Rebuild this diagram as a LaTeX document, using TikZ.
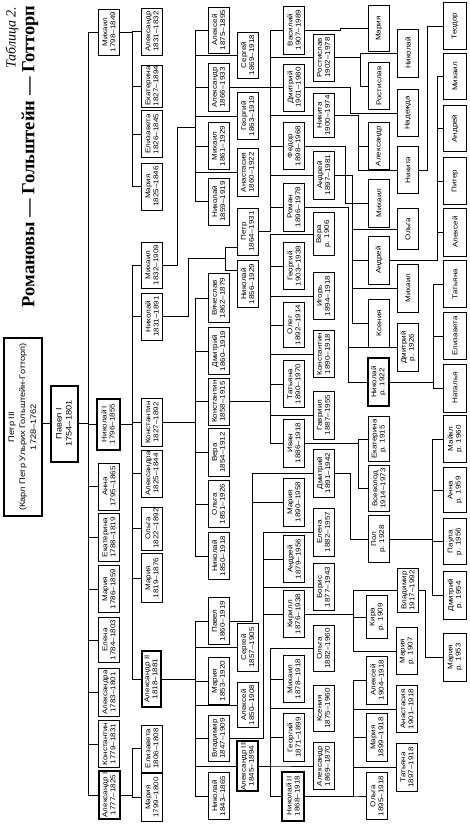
\documentclass[tikz,border=0pt]{standalone}
\usepackage{fontspec}
\setmainfont{Liberation Serif}
\newfontfamily\boxfont[FakeStretch=1.15]{Liberation Sans}

\tikzset{
  person/.style={draw, line width=0.9pt, rotate=90, align=center, inner sep=0.5pt,
    minimum width=47pt, minimum height=21pt,
    font=\boxfont\fontsize{7}{8}\selectfont},
  tsar/.style={person, line width=2pt},
  link/.style={line width=0.9pt},
}
% parent point, bus coordinate, list of children
\newcommand{\offspring}[3]{%
  \foreach \kid in {#3}{\draw[link] (#1) -| (#2 |- \kid.north) -- (\kid.north);}}

\begin{document}
\begin{tikzpicture}[x=1pt, y=-1pt]
  \useasboundingbox (0,0) rectangle (470,824);

  % Title
  \node[rotate=90, anchor=east, font=\fontsize{18.5}{18.5}\selectfont\bfseries] (title) at (30,2) {Романовы — Гольштейн — Готторп};
  \node[rotate=90, anchor=east, font=\fontsize{14}{14}\selectfont\itshape] (tabno) at (12,3) {Таблица 2.};

  % Petr III and Pavel I
  \node[tsar, minimum width=178pt, minimum height=38pt, font=\boxfont\fontsize{8}{11}\selectfont] (petrIII) at (22.5,427) {Петр III\\(Карл Петр Ульрих Гольштейн-Готторп)\\1728–1762};
  \node[tsar, minimum width=76pt, minimum height=27pt, font=\boxfont\fontsize{8}{10}\selectfont] (pavelI) at (64,423.5) {Павел I\\1754–1801};

  % children of Pavel I
  \node[person, minimum width=46pt] (mikhailP) at (109,32) {Михаил\\1798–1849};
  \node[tsar, minimum width=51pt, minimum height=23pt] (nikolaiI) at (108,424) {Николай I\\1796–1855};
  \node[person] (anna) at (109,486.5) {Анна\\1795–1865};
  \node[person, minimum width=48pt] (ekaterinaP) at (109,537.5) {Екатерина\\1788–1819};
  \node[person] (mariaP) at (109,589) {Мария\\1786–1859};
  \node[person, minimum width=45pt] (elena) at (109,640) {Елена\\1784–1803};
  \node[person, minimum width=48pt] (aleksandraP) at (109,692.5) {Александра\\1783–1801};
  \node[person] (konstantinP) at (109,744) {Константин\\1779–1831};
  \node[tsar, minimum width=48pt] (aleksandrI) at (109,795) {Александр I\\1777–1825};

  % grandchildren
  \node[person] (aleksandrM) at (152,31.5) {Александр\\1831–1832};
  \node[person, minimum width=42pt] (ekaterinaM) at (152,86) {Екатерина\\1827–1894};
  \node[person] (elizavetaM) at (152,134) {Елизавета\\1826–1845};
  \node[person] (mariaM) at (152,186.5) {Мария\\1825–1846};
  \node[person, minimum width=46pt] (mikhailN) at (152,265) {Михаил\\1832–1909};
  \node[person] (nikolaiN) at (152,316.5) {Николай\\1831–1891};
  \node[person, minimum width=48pt] (konstantinN) at (152,422.5) {Константин\\1827–1892};
  \node[person] (aleksandraN) at (152,473.5) {Александра\\1825–1844};
  \node[person, minimum width=43pt] (olgaN) at (152,528.5) {Ольга\\1822–1892};
  \node[person, minimum width=49pt] (mariaN) at (152,578) {Мария\\1819–1876};
  \node[tsar, minimum width=56pt, minimum height=19pt] (aleksandrII) at (151,679) {Александр II\\1818–1881};
  \node[person] (elizavetaA) at (152,748.5) {Елизавета\\1806–1808};
  \node[person, minimum width=48pt] (mariaA) at (152,797.5) {Мария\\1799–1800};

  % great-grandchildren
  \node[person, minimum width=46pt] (alekseiM) at (218.5,30) {Алексей\\1875–1895};
  \node[person, minimum width=46pt] (sergeiM) at (247.5,55) {Сергей\\1869–1918};
  \node[person, minimum width=48pt] (aleksandrMN) at (218.5,87.5) {Александр\\1866–1933};
  \node[person] (georgiiM) at (247.5,116) {Георгий\\1863–1919};
  \node[person] (mikhailMN) at (218.5,146) {Михаил\\1861–1929};
  \node[person, minimum width=48pt] (anastasiaM) at (247.5,172.5) {Анастасия\\1860–1922};
  \node[person] (nikolaiMN) at (218.5,201.5) {Николай\\1859–1919};
  \node[person] (petrN) at (247.5,231.5) {Петр\\1864–1931};
  \node[person] (nikolaiNN) at (247.5,284) {Николай\\1856–1929};
  \node[person, minimum width=49pt] (vyacheslav) at (218.5,298) {Вячеслав\\1862–1879};
  \node[person] (dmitriiK) at (218.5,351) {Дмитрий\\1860–1919};
  \node[person] (konstantinK) at (218.5,401.5) {Константин\\1858–1915};
  \node[person, minimum width=48pt] (vera) at (218.5,452.5) {Вера\\1854–1912};
  \node[person] (olgaK) at (218.5,504) {Ольга\\1851–1926};
  \node[person] (nikolaiK) at (218.5,556) {Николай\\1850–1918};
  \node[person] (pavelA) at (218.5,621) {Павел\\1860–1919};
  \node[person, minimum width=48pt] (sergeiA) at (247.5,647.5) {Сергей\\1857–1905};
  \node[person] (mariaAl) at (218.5,681) {Мария\\1853–1920};
  \node[person, minimum width=45pt] (alekseiA) at (247.5,705) {Алексей\\1850–1908};
  \node[person, minimum width=46pt] (vladimirA) at (218.5,738.5) {Владимир\\1847–1909};
  \node[tsar, minimum width=50pt] (aleksandrIII) at (247.5,766) {Александр III\\1845–1894};
  \node[person] (nikolaiA) at (218.5,796) {Николай\\1843–1865};

  % next generation
  \node[person, minimum width=48pt] (vasilii) at (294,30) {Василий\\1907–1989};
  \node[person] (rostislavA) at (323.5,57.5) {Ростислав\\1902–1978};
  \node[person] (dmitriiA) at (294,87.5) {Дмитрий\\1901–1980};
  \node[person, minimum width=44pt] (nikitaA) at (323.5,115.5) {Никита\\1900–1974};
  \node[person] (fedor) at (294,146) {Федор\\1898–1968};
  \node[person, minimum width=48pt] (andreiA) at (323.5,175) {Андрей\\1897–1981};
  \node[person, minimum width=48pt] (roman) at (294,207) {Роман\\1896–1978};
  \node[person, minimum width=43pt] (veraK) at (323.5,234) {Вера\\р. 1906};
  \node[person] (georgiiK) at (294,266) {Георгий\\1903–1938};
  \node[person] (igor) at (323.5,296) {Игорь\\1894–1918};
  \node[person, minimum width=45pt] (oleg) at (294,325) {Олег\\1892–1914};
  \node[person] (konstantinKK) at (323.5,354) {Константин\\1890–1918};
  \node[person] (tatianaK) at (294,384) {Татьяна\\1890–1970};
  \node[person, minimum width=48pt] (gavriil) at (323.5,415) {Гавриил\\1887–1955};
  \node[person, minimum width=48pt] (ioann) at (294,443) {Иван\\1886–1918};
  \node[person, minimum width=48pt] (dmitriiP) at (323.5,473) {Дмитрий\\1891–1942};
  \node[person, minimum width=48pt] (mariaPA) at (294,502) {Мария\\1890–1958};
  \node[person, minimum width=48pt] (elenaV) at (323.5,532) {Елена\\1882–1957};
  \node[person] (andreiV) at (294,559) {Андрей\\1879–1956};
  \node[person] (boris) at (323.5,587) {Борис\\1877–1943};
  \node[person] (kirill) at (294,614) {Кирилл\\1876–1938};
  \node[person, minimum width=46pt] (olgaA) at (323.5,648.5) {Ольга\\1882–1960};
  \node[person] (mikhailA) at (294,679) {Михаил\\1878–1918};
  \node[person, minimum width=46pt] (kseniaA) at (323.5,708.5) {Ксения\\1875–1960};
  \node[person, minimum width=48pt] (georgiiA) at (294,737.5) {Георгий\\1871–1899};
  \node[person] (aleksandrA) at (323.5,766) {Александр\\1869–1870};
  \node[tsar, minimum width=49pt, minimum height=22pt] (nikolaiII) at (293,796) {Николай II\\1868–1918};

  \node[person, minimum width=46pt] (mariaV) at (379,28.5) {Мария};
  \node[person, minimum width=48pt] (nikolaiR) at (408,53) {Николай};
  \node[person] (rostislavR) at (379,86) {Ростислав};
  \node[person] (nadezhda) at (408,113) {Надежда};
  \node[person] (aleksandrN) at (379,146) {Александр};
  \node[person] (nikitaN) at (408,170) {Никита};
  \node[person, minimum width=48pt] (mikhailF) at (379,203) {Михаил};
  \node[person, minimum width=41pt] (olgaAA) at (408,229) {Ольга};
  \node[person, minimum width=48pt] (andreiAA) at (379,260) {Андрей};
  \node[person, minimum width=48pt] (mikhailAA) at (408,288) {Михаил};
  \node[person, minimum width=48pt] (kseniaAA) at (379,323) {Ксения};
  \node[person, minimum width=48pt] (dmitriiR) at (408,347.5) {Дмитрий\\р. 1926};
  \node[person, line width=1.6pt, minimum width=48pt] (nikolaiRR) at (378.5,382) {Николай\\р. 1922};
  \node[person, minimum width=45pt] (ekaterinaI) at (379,439) {Екатерина\\р. 1915};
  \node[person, minimum width=46pt] (vsevolod) at (379,488.5) {Всеволод\\1914–1973};
  \node[person] (paul) at (378.5,539) {Пол\\р. 1928};
  \node[person, minimum width=44pt] (vladimirK) at (408,590.5) {Владимир\\1917–1992};
  \node[person, minimum width=43pt] (kira) at (377,617) {Кира\\р. 1909};
  \node[person] (mariaK) at (407,651) {Мария\\р. 1907};
  \node[person, minimum width=48pt] (alekseiN) at (377,680) {Алексей\\1904–1918};
  \node[person] (anastasiaN) at (407,709) {Анастасия\\1901–1918};
  \node[person, minimum width=48pt] (mariaNII) at (377,737.5) {Мария\\1899–1918};
  \node[person, minimum width=48pt] (tatianaN) at (407,767.5) {Татьяна\\1897–1918};
  \node[person] (olgaNII) at (377,796) {Ольга\\1895–1918};

  \node[person, minimum height=23pt] (teodor) at (455,26) {Теодор};
  \node[person, minimum height=23pt, minimum width=46pt] (mikhailX) at (455,76.5) {Михаил};
  \node[person, minimum height=23pt, minimum width=46pt] (andreiX) at (455,128.5) {Андрей};
  \node[person, minimum height=23pt] (piter) at (455,181) {Питер};
  \node[person, minimum height=23pt, minimum width=48pt] (aleksei7) at (455,232) {Алексей};
  \node[person, minimum height=23pt] (tatiana7) at (455,284) {Татьяна};
  \node[person, minimum height=23pt] (elizaveta7) at (455,336) {Елизавета};
  \node[person, minimum height=23pt, minimum width=48pt] (natalia7) at (455,388) {Наталья};
  \node[person, minimum height=23pt] (michael) at (455,439) {Майкл\\р. 1960};
  \node[person, minimum height=23pt, minimum width=45pt] (anna7) at (455,490) {Анна\\р. 1959};
  \node[person, minimum height=23pt, minimum width=46pt] (paula) at (455,541.5) {Паула\\р. 1956};
  \node[person, minimum height=23pt, minimum width=48pt] (dmitrii7) at (455,595) {Дмитрий\\р. 1954};
  \node[person, minimum height=23pt, minimum width=48pt] (maria7) at (455,657) {Мария\\р. 1953};

  % bus lines
  \coordinate (b88) at (88,0);
  \coordinate (b132) at (132,0);
  \coordinate (b195) at (195,0);
  \coordinate (b252) at (252,0);
  \coordinate (b263) at (263,0);
  \coordinate (b270) at (270,0);
  \coordinate (b340) at (340,0);
  \coordinate (b345) at (345,0);
  \coordinate (b348) at (348,0);
  \coordinate (b350) at (350,0);
  \coordinate (b352) at (352,0);
  \coordinate (b353) at (353,0);
  \coordinate (b358) at (358,0);
  \coordinate (b360) at (360,0);
  \coordinate (b425) at (425,0);
  \coordinate (b427) at (427,0);
  \coordinate (b432) at (432,0);
  \coordinate (b433) at (433,0);
  \coordinate (b437) at (437,0);
  \coordinate (mnJog) at (177,127);
  \coordinate (mnIn) at (195,127);
  \coordinate (nnJog) at (188,258);
  \coordinate (nnIn) at (225,258);
  \coordinate (nnTop) at (225,247);
  \coordinate (nnBot) at (225,270);

  % connectors
  \draw[link] (petrIII.south |- pavelI.north) -- (pavelI.north);
  \offspring{pavelI.south}{b88}{mikhailP,nikolaiI,anna,ekaterinaP,mariaP,elena,aleksandraP,konstantinP,aleksandrI}
  \offspring{mikhailP.south}{b132}{aleksandrM,ekaterinaM,elizavetaM,mariaM}
  \offspring{nikolaiI.south}{b132}{mikhailN,nikolaiN,konstantinN,aleksandraN,olgaN,mariaN,aleksandrII}
  \offspring{aleksandrI.south}{b132}{elizavetaA,mariaA}

  \draw[link] (mikhailN.south) -| (mnJog) -- (mnIn);
  \offspring{mnIn}{b195}{alekseiM,sergeiM,aleksandrMN,georgiiM,mikhailMN,anastasiaM,nikolaiMN}
  \draw[link] (nikolaiN.south) -| (nnJog) -- (nnIn);
  \draw[link] (nnTop) -- (nnBot);
  \draw[link] (nnTop) -- (nnTop -| petrN.north);
  \draw[link] (nnBot) -- (nnBot -| nikolaiNN.north);
  \offspring{konstantinN.south}{b195}{vyacheslav,dmitriiK,konstantinK,vera,olgaK,nikolaiK}
  \offspring{aleksandrII.south}{b195}{pavelA,sergeiA,mariaAl,alekseiA,vladimirA,aleksandrIII,nikolaiA}

  \offspring{aleksandrMN.south}{b270}{vasilii,rostislavA,dmitriiA,nikitaA,fedor,andreiA}
  \offspring{petrN.south}{b270}{roman}
  \draw[link] (b270 |- roman.north) -- (b270 |- andreiA.north);
  \offspring{konstantinK.south}{b270}{veraK,georgiiK,igor,oleg,konstantinKK,tatianaK,gavriil,ioann}
  \offspring{pavelA.south}{b252}{dmitriiP,mariaPA}
  \offspring{vladimirA.south}{b263}{elenaV,andreiV,boris,kirill}
  \offspring{aleksandrIII.south}{b270}{olgaA,mikhailA,kseniaA,georgiiA,aleksandrA,nikolaiII}

  \offspring{vasilii.south}{b340}{mariaV}
  \offspring{rostislavA.south}{b360}{nikolaiR,rostislavR}
  \offspring{dmitriiA.south}{b350}{nadezhda}
  \offspring{nikitaA.south}{b358}{aleksandrN,nikitaN}
  \offspring{fedor.south}{b345}{mikhailF}
  \offspring{andreiA.south}{b352}{olgaAA,andreiAA,mikhailAA,kseniaAA}
  \offspring{roman.south}{b348}{dmitriiR,nikolaiRR}
  \offspring{ioann.south}{b358}{ekaterinaI,vsevolod}
  \offspring{dmitriiP.south}{b350}{paul}
  \offspring{kirill.south}{b353}{vladimirK,kira,mariaK}
  \offspring{nikolaiII.south}{b353}{alekseiN,anastasiaN,mariaNII,tatianaN,olgaNII}

  \offspring{nikitaN.south}{b427}{teodor}
  \offspring{andreiAA.south}{b437}{mikhailX,andreiX,piter,aleksei7}
  \offspring{nikolaiRR.south}{b433}{tatiana7,elizaveta7,natalia7}
  \offspring{paul.south}{b432}{michael,anna7,paula,dmitrii7}
  \offspring{vladimirK.south}{b425}{maria7}
\end{tikzpicture}
\end{document}
